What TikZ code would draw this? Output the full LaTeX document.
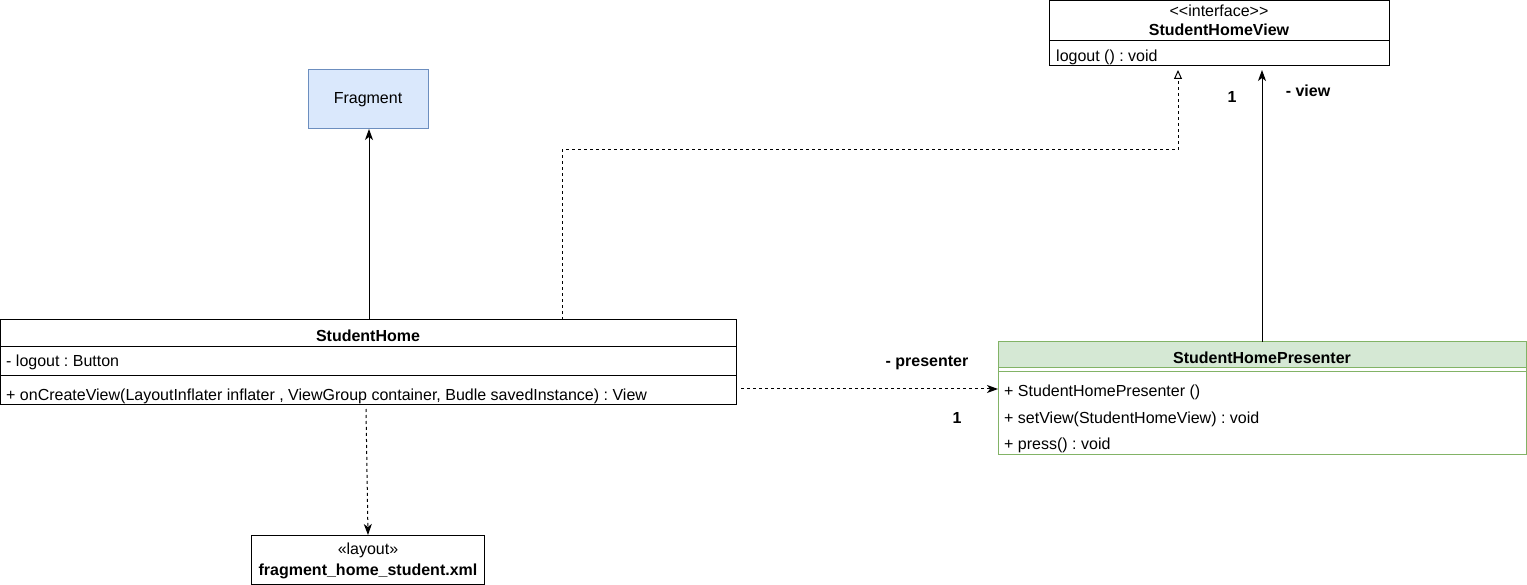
\documentclass[tikz,border=0pt]{standalone}
\usepackage{fontspec}
\setmainfont{Liberation Sans}
\usetikzlibrary{arrows.meta}
\definecolor{fragfill}{HTML}{DAE8FC}
\definecolor{fragdraw}{HTML}{6C8EBF}
\definecolor{presfill}{HTML}{D5E8D4}
\definecolor{presdraw}{HTML}{82B366}
\frenchspacing
\begin{document}
\begin{tikzpicture}[x=1pt,y=-1pt,
  every node/.style={font=\fontsize{16}{19}\selectfont},
  box/.style={draw=black,line width=1pt,anchor=north west,inner sep=0pt,outer sep=0pt},
  txt/.style={inner sep=0pt,anchor=west},
  ctxt/.style={inner sep=0pt},
  bold/.style={font=\fontsize{16}{19}\selectfont\bfseries},
  lbl/.style={inner sep=0pt,font=\fontsize{16}{19}\selectfont\bfseries},
  sep/.style={line width=1pt},
  solidarrow/.style={line width=1pt,-{Stealth[length=11pt,width=8pt,inset=3pt]}},
  dasharrow/.style={line width=1pt,dash pattern=on 3pt off 3pt,-{Stealth[length=11pt,width=8pt,inset=3pt]}},
  realize/.style={line width=1pt,dash pattern=on 3pt off 3pt,-{Triangle[open,length=9pt,width=8pt,fill=white]}}
]
\useasboundingbox (0,0) rectangle (1527,585);
% StudentHomeView interface
\node[box,minimum width=340pt,minimum height=65pt] (shv) at (1049,1) {};
\draw[sep] (1049,41) -- (1389,41);
\node[ctxt] (shvst) at (1219,11) {{<}{<}interface{>}{>}};
\node[ctxt,bold] (shvname) at (1219,30) {StudentHomeView};
\node[txt] (shvop) at (1056,57) {logout () : void};
% Fragment
\node[box,draw=fragdraw,fill=fragfill,minimum width=120pt,minimum height=59pt] (frag) at (308,70) {};
\node[ctxt] (fragt) at (368,100) {Fragment};
% StudentHome
\node[box,minimum width=736pt,minimum height=85pt] (sh) at (0,320) {};
\draw[sep] (0,347) -- (736,347);
\draw[sep] (0,376) -- (736,376);
\node[ctxt,bold] (shname) at (368,336) {StudentHome};
\node[txt] (shattr) at (6,362) {- logout : Button};
\node[txt] (shop) at (6,396) {+ onCreateView(LayoutInflater inflater , ViewGroup container, Budle savedInstance) : View};
% StudentHomePresenter
\node[box,draw=presdraw,minimum width=528pt,minimum height=112pt] (shp) at (998,342) {};
\fill[presfill] (998.5,342.5) rectangle (1525.5,368);
\draw[presdraw,line width=1pt] (998,342) rectangle (1526,454);
\draw[presdraw,line width=1pt] (998,368) -- (1526,368);
\draw[presdraw,line width=1pt] (998,372) -- (1526,372);
\node[ctxt,bold] (shpname) at (1262,358) {StudentHomePresenter};
\node[txt] (shpop1) at (1004,392) {+ StudentHomePresenter ()};
\node[txt] (shpop2) at (1004,419) {+ setView(StudentHomeView) : void};
\node[txt] (shpop3) at (1004,445) {+ press() : void};
% layout
\node[box,minimum width=233pt,minimum height=49pt] (lay) at (251,535) {};
\node[ctxt] (layst) at (368,550) {«layout»};
\node[ctxt,bold] (layname) at (368,571) {fragment\_home\_student.xml};
% coordinates
\coordinate (a1) at (369,320);
\coordinate (a2) at (369,129);
\coordinate (b1) at (562,320);
\coordinate (b2) at (562,150);
\coordinate (b3) at (1178,150);
\coordinate (b4) at (1178,70);
\coordinate (c1) at (1262,342);
\coordinate (c2) at (1262,70);
\coordinate (d1) at (741,389);
\coordinate (d2) at (998,389);
\coordinate (e1) at (366,409);
\coordinate (e2) at (368,535);
% connectors
\draw[solidarrow] (a1) -- (a2);
\draw[realize] (b1) -- (b2) -- (b3) -- (b4);
\draw[solidarrow] (c1) -- (c2);
\draw[dasharrow] (d1) -- (d2);
\draw[dasharrow] (e1) -- (e2);
% labels
\node[lbl] (l1) at (1232,97) {1};
\node[lbl] (l2) at (1308,91) {- view};
\node[lbl] (l3) at (927,363) {- presenter};
\node[lbl] (l4) at (957,418) {1};
\end{tikzpicture}
\end{document}
